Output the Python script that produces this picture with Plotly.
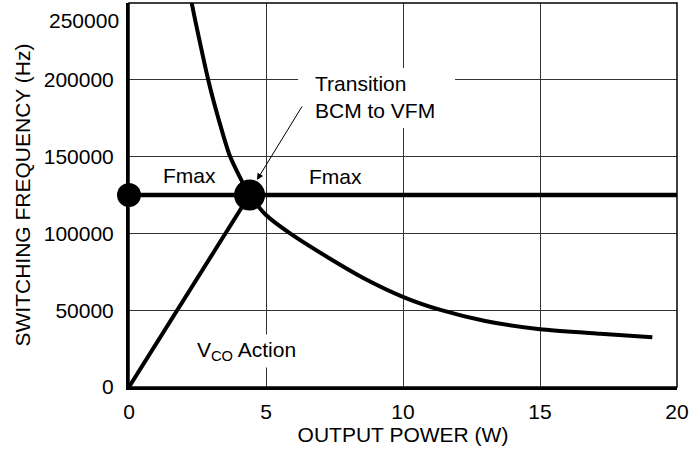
import plotly.graph_objects as go

# VFM curve
curve_power = [2.2, 2.29, 2.89, 3.26, 3.69, 4.4, 5.0, 5.88, 7.34, 8.55, 10.04, 11.4, 13.0, 15.0, 17.2, 19.1]
curve_freq = [262000, 250000, 200000, 175000, 150000, 125000, 112000, 100000, 83500, 71000, 58400,
              50000, 43000, 37600, 34700, 32400]

# Fmax clamp and VCO ramp
fmax_power = [0, 20]
fmax_freq = [125000, 125000]
vco_power = [0, 4.4]
vco_freq = [0, 125000]

# dots
dot_power = [0, 4.4]
dot_freq = [125000, 125000]
dot_size = [24, 31]

x_ticks = [0, 5, 10, 15, 20]
x_ticktext = ["0", "5", "10", "15", "20"]
y_ticks = [0, 50000, 100000, 150000, 200000]
y_ticktext = ["0", "50000", "100000", "150000", "200000"]
y_top_label = "250000"

FONT = "Liberation Sans, Arial, Helvetica, sans-serif"

fig = go.Figure()
fig.add_trace(go.Scatter(x=curve_power, y=curve_freq, mode="lines",
                         line=dict(color="black", width=4, shape="spline", smoothing=0.6)))
fig.add_trace(go.Scatter(x=fmax_power, y=fmax_freq, mode="lines",
                         line=dict(color="black", width=4.5)))
fig.add_trace(go.Scatter(x=vco_power, y=vco_freq, mode="lines",
                         line=dict(color="black", width=4)))
fig.add_trace(go.Scatter(x=dot_power, y=dot_freq, mode="markers", cliponaxis=False,
                         marker=dict(color="black", size=dot_size, opacity=1, line=dict(width=0))))

# white box behind the transition note (hides grid lines only)
fig.add_shape(type="rect", x0=6.17, x1=11.9, y0=168600, y1=207700, layer="between",
              fillcolor="white", line=dict(width=0))
# thin frame top/right
fig.add_shape(type="rect", xref="paper", yref="paper", x0=0, x1=1, y0=0, y1=1,
              line=dict(color="black", width=1.5), layer="above")

txt = dict(family=FONT, size=21, color="black")
fig.add_annotation(x=2.2, y=137400, text="Fmax", showarrow=False, font=txt, bgcolor="white")
fig.add_annotation(x=7.55, y=137000, text="Fmax", showarrow=False, font=txt, bgcolor="white")
fig.add_annotation(x=6.72, y=189100, text="Transition<br>BCM to VFM", showarrow=False,
                   xanchor="left", align="left", font=txt)
fig.add_annotation(x=4.67, y=134800, ax=46, ay=-75, text="", showarrow=True,
                   arrowhead=2, arrowsize=1.3, arrowwidth=1, arrowcolor="black")
fig.add_annotation(x=4.3, y=23500, text="V<sub>CO</sub> Action", showarrow=False,
                   font=txt, bgcolor="white", borderpad=3)
fig.add_annotation(xref="paper", x=0, xanchor="right", xshift=-8, y=250000, yanchor="top",
                   yshift=-4, text=y_top_label, showarrow=False, font=txt)

fig.update_xaxes(range=[0, 20], tickvals=x_ticks, ticktext=x_ticktext,
                 showgrid=True, gridcolor="#333", gridwidth=1, zeroline=False,
                 showline=True, linecolor="black", linewidth=3, ticks="",
                 ticklabelstandoff=4, tickfont=txt, automargin=False,
                 title=dict(text="OUTPUT POWER (W)", font=dict(family=FONT, size=21, color="black"),
                            standoff=5))
fig.update_yaxes(range=[0, 250000], tickvals=y_ticks, ticktext=y_ticktext,
                 showgrid=True, gridcolor="#333", gridwidth=1, zeroline=False,
                 showline=True, linecolor="black", linewidth=3, ticks="",
                 ticklabelstandoff=8, tickfont=txt, automargin=False,
                 title=dict(text="SWITCHING FREQUENCY (Hz)",
                            font=dict(family=FONT, size=21, color="black"), standoff=8))
fig.update_layout(width=691, height=457, margin=dict(l=129, r=14, t=3, b=70),
                  plot_bgcolor="white", paper_bgcolor="white", showlegend=False)

# the page body has a default 8px margin; drop it so the figure sits at 0,0
fig.write_html("out.html", config={"displayModeBar": False},
               post_script="document.body.style.margin='0';document.body.style.overflow='hidden';")
